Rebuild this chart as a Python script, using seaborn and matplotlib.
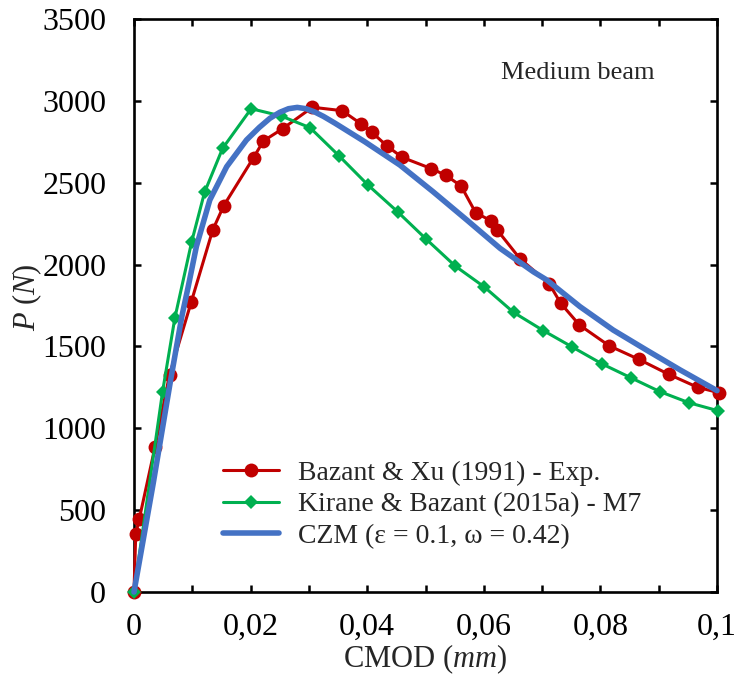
import numpy as np
import pandas as pd
import seaborn as sns
import matplotlib
matplotlib.use("Agg")
import matplotlib.pyplot as plt
from matplotlib.ticker import MultipleLocator, FixedLocator, FixedFormatter

# --- data ---
exp_x = [0, 0.0003, 0.0009, 0.0036, 0.0061, 0.0098, 0.0135, 0.0154, 0.0205, 0.0222,
         0.0255, 0.0306, 0.0357, 0.0390, 0.0408, 0.0434, 0.0460, 0.0510, 0.0535,
         0.0561, 0.0586, 0.0612, 0.0623, 0.0662, 0.0712, 0.0732, 0.0764, 0.0815,
         0.0866, 0.0917, 0.0967, 0.1004]
exp_y = [0, 352, 445, 885, 1328, 1769, 2211, 2360, 2653, 2755,
         2830, 2961, 2940, 2858, 2808, 2724, 2655, 2586, 2545,
         2480, 2317, 2268, 2211, 2036, 1884, 1763, 1631, 1504,
         1421, 1330, 1250, 1217]

m7_x = [0, 0.0049, 0.0070, 0.0099, 0.0121, 0.0152, 0.0201, 0.0252, 0.0302, 0.0352,
        0.0401, 0.0452, 0.0501, 0.0551, 0.0601, 0.0651, 0.0702, 0.0751, 0.0803,
        0.0852, 0.0902, 0.0952, 0.1002]
m7_y = [0, 1223, 1672, 2140, 2441, 2710, 2952, 2908, 2836, 2663,
        2487, 2323, 2156, 1991, 1863, 1708, 1597, 1498, 1393,
        1309, 1224, 1156, 1107]

czm_x = [0, 0.0033, 0.0062, 0.0082, 0.0093, 0.0107, 0.0130, 0.0159, 0.0193, 0.0215,
         0.0233, 0.0250, 0.0265, 0.0280, 0.0295, 0.0310, 0.0325, 0.0345, 0.0396,
         0.0456, 0.0513, 0.0571, 0.0628, 0.0685, 0.0708, 0.0765, 0.0822, 0.0879,
         0.0937, 0.1000]
czm_y = [0, 664, 1277, 1682, 1865, 2110, 2394, 2598, 2761, 2838,
         2893, 2930, 2952, 2960, 2952, 2932, 2905, 2863, 2750,
         2608, 2445, 2272, 2099, 1956, 1906, 1743, 1600, 1478,
         1356, 1230]

series_labels = ["Bazant & Xu (1991) - Exp.",
                 "Kirane & Bazant (2015a) - M7",
                 "CZM (\u03b5 = 0.1, \u03c9 = 0.42)"]
x_ticks = [0, 0.02, 0.04, 0.06, 0.08, 0.1]
x_tick_labels = ["0", "0,02", "0,04", "0,06", "0,08", "0,1"]
y_ticks = [0, 500, 1000, 1500, 2000, 2500, 3000, 3500]

sns.set_theme(style="white")
plt.rcParams['font.family'] = ['Liberation Serif', 'DejaVu Serif']
plt.rcParams['mathtext.fontset'] = 'custom'
plt.rcParams['mathtext.it'] = 'Liberation Serif:italic'
plt.rcParams['mathtext.rm'] = 'Liberation Serif'

fig = plt.figure(figsize=(7.37, 6.88), dpi=100)
ax = fig.add_axes([0.1818, 0.1395, 0.7911, 0.8329])

df_exp = pd.DataFrame({"x": exp_x, "y": exp_y})
df_m7 = pd.DataFrame({"x": m7_x, "y": m7_y})
df_czm = pd.DataFrame({"x": czm_x, "y": czm_y})

sns.lineplot(data=df_exp, x="x", y="y", ax=ax, sort=False, color="#C00000",
             linewidth=2.2, marker="o", markersize=10, markeredgewidth=0,
             label=series_labels[0], clip_on=False, zorder=3)
sns.lineplot(data=df_m7, x="x", y="y", ax=ax, sort=False, color="#00B050",
             linewidth=2.2, marker="D", markersize=7.5, markeredgewidth=0,
             label=series_labels[1], clip_on=False, zorder=4)
sns.lineplot(data=df_czm, x="x", y="y", ax=ax, sort=False, color="#4472C4",
             linewidth=4.0, label=series_labels[2], clip_on=False, zorder=5)

ax.set_xlim(0, 0.1)
ax.set_ylim(0, 3500)
ax.xaxis.set_major_locator(FixedLocator(x_ticks))
ax.xaxis.set_major_formatter(FixedFormatter(x_tick_labels))
ax.xaxis.set_minor_locator(MultipleLocator(0.01))
ax.yaxis.set_major_locator(FixedLocator(y_ticks))

for s in ax.spines.values():
    s.set_color("black")
    s.set_linewidth(1.9)

ax.tick_params(axis="both", which="both", direction="in", top=True, right=True,
               bottom=True, left=True, length=5, width=1.8, colors="black",
               labelsize=23, labelcolor="black")
ax.tick_params(axis="x", which="major", pad=15)
ax.tick_params(axis="y", which="major", pad=20)

ax.set_xlabel("CMOD ($\\it{mm}$)", fontsize=22)
ax.set_ylabel("$\\it{P}$ ($\\it{N}$)", fontsize=22)
ax.xaxis.set_label_coords(0.5, -0.088)
ax.yaxis.set_label_coords(-0.155, 0.515)

ax.text(0.762, 0.905, "Medium beam", transform=ax.transAxes, fontsize=19,
        ha="center", va="center")

leg = ax.legend(loc="upper left", bbox_to_anchor=(0.1527, 0.230), frameon=False,
                fontsize=20, handlelength=2.0, handletextpad=0.7,
                labelspacing=0.22, borderaxespad=0, borderpad=0)

fig.savefig("out.png", dpi=100)
